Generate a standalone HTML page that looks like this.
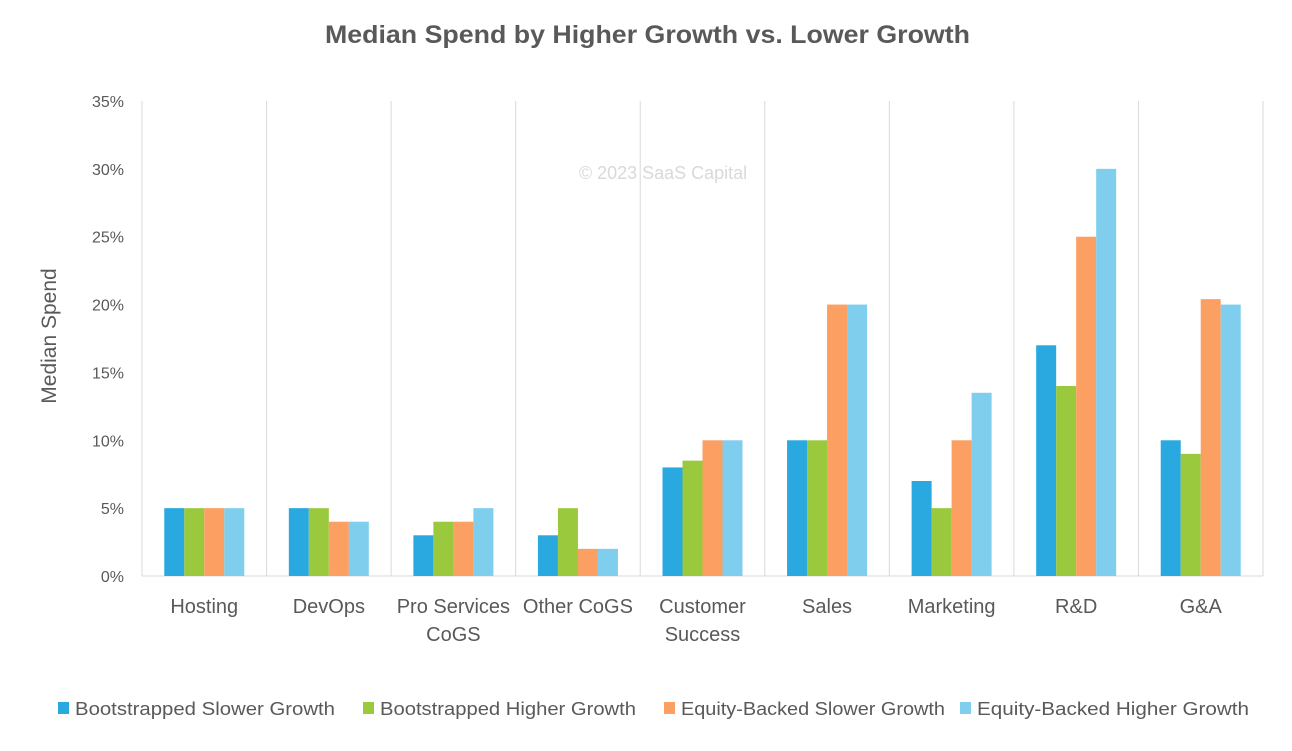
<!DOCTYPE html>
<html><head><meta charset="utf-8">
<style>
body{margin:0;background:#fff;}
svg text{font-family:"Liberation Sans",sans-serif;}
</style></head>
<body>
<svg id="chart" width="1292" height="746" viewBox="0 0 1292 746" xmlns="http://www.w3.org/2000/svg">
<rect width="1292" height="746" fill="#fff"/>
<text x="325" y="43" textLength="645" lengthAdjust="spacingAndGlyphs" font-size="25" font-weight="bold" fill="#595959">Median Spend by Higher Growth vs. Lower Growth</text>
<text x="663" y="179" text-anchor="middle" font-size="18" fill="#d9d9d9">© 2023 SaaS Capital</text>
<text transform="translate(56,336) rotate(-90)" text-anchor="middle" font-size="21" fill="#595959">Median Spend</text>
<g id="grid"></g><g id="bars"></g><g id="ticks"></g><g id="cats"></g><g id="legend"></g>
</svg>
<script>
const categories=[["Hosting"],["DevOps"],["Pro Services","CoGS"],["Other CoGS"],["Customer","Success"],["Sales"],["Marketing"],["R&D"],["G&A"]];
const seriesNames=["Bootstrapped Slower Growth","Bootstrapped Higher Growth","Equity-Backed Slower Growth","Equity-Backed Higher Growth"];
const bootSlow=[5,5,3,3,8,10,7,17,10];
const bootHigh=[5,5,4,5,8.5,10,5,14,9];
const eqSlow=[5,4,4,2,10,20,10,25,20.4];
const eqHigh=[5,4,5,2,10,20,13.5,30,20];
const yTicks=[0,5,10,15,20,25,30,35];
const colors=["#29A9E0","#9BC93E","#FBA062","#80CEEE"];
const series=[bootSlow,bootHigh,eqSlow,eqHigh];
const NS="http://www.w3.org/2000/svg";
const X0=142,X1=1263,Y0=576,Y1=101,YMAX=35;
const n=categories.length,cw=(X1-X0)/n,bw=20;
const y=v=>Y0-(v/YMAX)*(Y0-Y1);
const cx=i=>X0+cw*(i+0.5);
function mk(tag,attrs,parent){const e=document.createElementNS(NS,tag);for(const k in attrs)e.setAttribute(k,attrs[k]);document.getElementById(parent).appendChild(e);return e;}
for(let i=0;i<=n;i++){
  const l=mk("line",{x1:X0+cw*i,x2:X0+cw*i,y1:Y1,y2:Y0,stroke:"#d9d9d9","stroke-width":1},"grid");
  
  
}
const ax=mk("line",{x1:X0,x2:X1,y1:Y0,y2:Y0,stroke:"#d9d9d9","stroke-width":1},"grid");


yTicks.forEach(t=>{
  const tx=mk("text",{x:124,y:y(t)+6,"text-anchor":"end","font-size":16,fill:"#595959"},"ticks");
  tx.textContent=t+"%";
  
  
});
categories.forEach((c,i)=>{
  series.forEach((s,j)=>{
    const r=mk("rect",{x:cx(i)-2*bw+j*bw,y:y(s[i]),width:bw,height:Y0-y(s[i]),fill:colors[j]},"bars");
    
    
  });
  c.forEach((ln,k)=>{
    const t=mk("text",{x:cx(i),y:613+k*28,"text-anchor":"middle","font-size":20,fill:"#595959"},"cats");
    t.textContent=ln;
    
    
  });
});
const legX=[58,363,664,960];
const legW=[260,256,264,272];
seriesNames.forEach((nm,j)=>{
  const r=mk("rect",{x:legX[j],y:702,width:11,height:12,fill:colors[j]},"legend");
  
  
  const t=mk("text",{x:legX[j]+17,y:715,"font-size":18,fill:"#595959",textLength:legW[j],lengthAdjust:"spacingAndGlyphs"},"legend");
  t.textContent=nm;
  
  
});
</script>
</body></html>
